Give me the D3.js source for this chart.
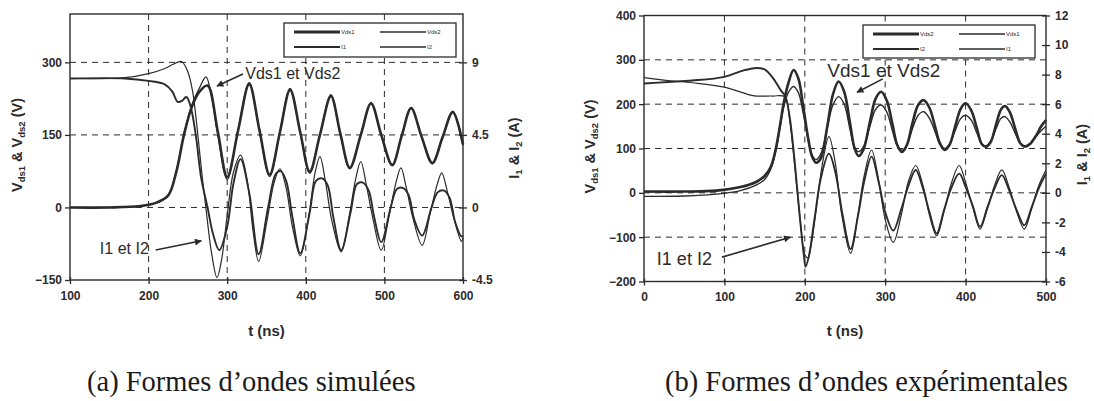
<!DOCTYPE html>
<html>
<head>
<meta charset="utf-8">
<script src="https://cdn.jsdelivr.net/npm/d3@7"></script>
<style>
  body { margin: 0; background: #fff; }
  svg { display: block; }
</style>
</head>
<body>
<script>
// ---- data, panel (a) simulated ----
let simT_vds1 = [100,150,190,210,225,235,245,255,265,275,288,300,314,328,341,354,367,380,393,405,418,432,444,456,470,483,496,510,522,534,547,561,574,587,600];
let simVds1   = [0,0,3,10,25,72,150,208,240,252,157,63,160,255,160,68,155,243,155,74,150,230,152,82,150,215,150,88,148,205,148,92,145,197,130];
let simT_vds2 = [100,150,190,210,225,235,245,255,265,273,280,288,300,314,328,341,354,367,380,393,405,418,432,444,456,470,483,496,510,522,534,547,561,574,587,600];
let simVds2   = [0,0,3,10,25,74,152,212,248,270,230,150,58,162,258,158,64,156,246,153,71,151,233,150,80,151,217,149,86,149,207,147,90,146,199,128];
let simT_i1 = [100,170,200,220,230,237,242,248,253,260,267,275,282,290,300,308,317,328,340,352,362,368,375,383,393,405,413,421,428,435,445,457,465,472,480,487,496,508,516,524,531,538,548,560,568,576,583,590,598,600];
let simI1   = [8.0,8.0,7.85,7.65,7.2,6.55,6.6,6.85,6.35,4.5,1.8,0,-1.65,-2.65,-1.2,1.5,3.0,0.9,-2.9,0,2.1,2.25,1.65,-0.6,-2.85,-0.3,1.65,1.8,1.35,-0.6,-2.65,-0.3,1.45,1.55,1.05,-0.6,-2.15,0,1.15,1.2,0.75,-0.75,-1.75,0,0.95,1.05,0.6,-0.9,-1.8,-1.75];
let simT_i2 = [100,170,200,220,232,242,250,256,262,268,274,280,287,293,300,308,317,326,333,340,350,360,367,375,383,393,403,412,418,425,433,445,455,464,470,477,485,496,506,515,521,528,536,548,558,567,573,580,588,598,600];
let simI2   = [8.0,8.05,8.3,8.6,8.9,9.05,8.4,7.2,4.8,2.0,-0.5,-2.8,-4.35,-3.2,-0.5,2.2,3.25,1.5,-1.5,-3.35,-1.0,1.6,2.4,1.2,-1.2,-3.0,-0.8,2.2,3.15,1.6,-0.8,-2.75,-0.6,1.9,2.85,1.4,-0.6,-2.65,-0.5,1.6,2.45,1.2,-0.6,-2.35,-0.4,1.4,2.15,1.0,-0.6,-2.1,-1.9];

// ---- data, panel (b) experimental ----
let expT_v = [0,50,90,120,140,150,158,164,169,174,180,186,192,198,204,209,214,220,228,235,242,249,256,262,267,273,281,288,295,302,309,315,321,327,334,341,348,355,362,368,374,380,387,394,400,407,414,420,425,431,438,444,449,455,462,468,474,480,488,494,500];
let expVds2 = [3,3,5,13,25,38,60,100,150,205,250,277,258,195,125,82,68,78,150,222,251,228,160,100,83,98,160,212,228,208,155,108,92,108,158,198,209,192,150,112,97,108,150,190,202,186,146,110,104,114,155,188,196,182,143,112,104,110,130,150,164];
let expVds1 = [-8,-7,-3,5,18,30,55,95,145,195,228,240,226,180,122,86,75,88,148,198,217,200,145,102,93,104,150,188,198,182,140,106,96,108,145,175,183,168,138,110,100,110,140,168,175,164,135,111,106,115,145,168,172,160,133,112,106,111,128,140,150];
let expT_i1 = [0,30,60,100,130,140,160,175,181,186,190,195,200,204,208,215,222,230,238,246,257,266,274,283,292,300,310,320,329,338,347,355,364,373,382,392,400,409,418,427,436,445,454,463,473,482,491,500];
let expI1   = [7.8,7.6,7.45,7.15,6.65,6.55,6.55,6.5,5.0,2.6,0.4,-2.2,-4.2,-4.4,-3.5,-0.8,2.0,3.8,2.0,-1.5,-4.1,-1.5,1.2,2.9,0.8,-1.8,-3.35,-1.5,0.8,1.85,0.5,-1.5,-2.9,-1.3,0.6,1.85,0.7,-1.0,-2.45,-1.1,0.5,1.55,0.4,-1.2,-2.45,-1.1,0.5,1.55];
let expT_i2 = [0,30,60,100,125,140,150,160,170,176,181,186,190,195,199,201,205,212,220,230,238,247,257,266,274,283,292,300,310,320,329,338,347,355,364,373,382,392,400,409,418,427,436,445,454,463,473,482,491,500];
let expI2   = [7.4,7.5,7.6,7.85,8.3,8.45,8.35,7.8,6.95,6.5,5.2,2.9,0.6,-2.3,-4.3,-5.0,-4.3,-1.8,1.0,2.65,1.4,-1.5,-3.8,-1.6,0.8,2.45,0.7,-1.3,-2.55,-1.1,0.5,1.55,0.3,-1.3,-2.75,-1.2,0.3,1.3,0.4,-0.9,-2.3,-1.0,0.3,1.2,0.2,-1.1,-2.2,-1.0,0.3,1.3];

// ---- ticks ----
let simXTicks = [100,200,300,400,500,600];
let simVTicks = [-150,0,150,300];
let simITicks = [-4.5,0,4.5,9];
let simVGrid = [0,150,300];
let simXGrid = [200,300,400,500];
let expXTicks = [0,100,200,300,400,500];
let expVTicks = [-200,-100,0,100,200,300,400];
let expITicks = [-6,-4,-2,0,2,4,6,8,10,12];
let expVGrid = [-100,0,100,200,300];
let expXGrid = [100,200,300,400];

let width = 1094;
let height = 401;
let ink = "#2b2b2b";
let sans = "'Liberation Sans', Arial, sans-serif";

let svg = d3.select("body").append("svg").attr("width", width).attr("height", height);
svg.append("rect").attr("width", width).attr("height", height).attr("fill", "#fff");

svg.append("defs").append("marker")
  .attr("id", "arr").attr("viewBox", "0 0 10 10").attr("refX", 9).attr("refY", 5)
  .attr("markerWidth", 9).attr("markerHeight", 7).attr("markerUnits", "userSpaceOnUse")
  .attr("orient", "auto")
  .append("path").attr("d", "M0,0 L10,5 L0,10 z").attr("fill", ink);

function drawPanel(p) {
  let x = d3.scaleLinear().domain(p.xDomain).range([p.left, p.right]);
  let yV = d3.scaleLinear().domain(p.vDomain).range([p.bottom, p.top]);
  let yI = d3.scaleLinear().domain(p.iDomain).range([p.bottom, p.top]);
  let g = svg.append("g");

  // grid
  g.selectAll(".hg").data(p.vGrid).enter().append("line")
    .attr("x1", p.left).attr("x2", p.right)
    .attr("y1", (d) => {return yV(d);}).attr("y2", (d) => {return yV(d);})
    .attr("stroke", ink).attr("stroke-width", 1).attr("stroke-dasharray", "6,5");
  g.selectAll(".vg").data(p.xGrid).enter().append("line")
    .attr("y1", p.top).attr("y2", p.bottom)
    .attr("x1", (d) => {return x(d);}).attr("x2", (d) => {return x(d);})
    .attr("stroke", ink).attr("stroke-width", 1).attr("stroke-dasharray", "6,5");

  // series
  let curve = d3.curveCatmullRom.alpha(0.5);
  p.series.forEach((s) => {
    let sc = s.axis === "I" ? yI : yV;
    let pts = s.t.map((t, i) => {return [t, s.v[i]];});
    g.append("path").datum(pts)
      .attr("fill", "none").attr("stroke", ink).attr("stroke-width", s.w)
      .attr("stroke-linejoin", "round")
      .attr("d", d3.line().curve(curve).x((d) => {return x(d[0]);}).y((d) => {return sc(d[1]);}));
  });

  // frame
  g.append("rect").attr("x", p.left).attr("y", p.top)
    .attr("width", p.right - p.left).attr("height", p.bottom - p.top)
    .attr("fill", "none").attr("stroke", ink).attr("stroke-width", 1.4);

  // axes
  let ax = g.append("g").attr("transform", "translate(0," + p.bottom + ")")
    .call(d3.axisBottom(x).tickValues(p.xTicks).tickSize(4).tickPadding(7).tickFormat(d3.format("d")));
  ax.selectAll(".tick line").attr("y1", -3);
  let al = g.append("g").attr("transform", "translate(" + p.left + ",0)")
    .call(d3.axisLeft(yV).tickValues(p.vTicks).tickSize(5).tickPadding(3).tickFormat(d3.format("d")));
  let ar = g.append("g").attr("transform", "translate(" + p.right + ",0)")
    .call(d3.axisRight(yI).tickValues(p.iTicks).tickSize(4).tickPadding(5).tickFormat((d) => {return String(d);}));
  ar.selectAll(".tick line").attr("x1", -4);
  [ax, al, ar].forEach((a) => {
    a.select(".domain").remove();
    a.selectAll(".tick line").attr("stroke", ink).attr("stroke-width", 1.3);
    a.selectAll("text").attr("fill", ink).attr("font-family", sans)
      .attr("font-weight", "bold").attr("font-size", 12);
  });

  // legend
  let lg = g.append("g");
  lg.append("rect").attr("x", p.legend.x).attr("y", p.legend.y)
    .attr("width", p.legend.w).attr("height", p.legend.h)
    .attr("fill", "#fff").attr("stroke", ink).attr("stroke-width", 1.3);
  p.legend.items.forEach((it, i) => {
    let cx = p.legend.x + 10 + (i % 2) * p.legend.w / 2;
    let cy = p.legend.y + 9 + Math.floor(i / 2) * 15;
    lg.append("line").attr("x1", cx).attr("x2", cx + 46).attr("y1", cy).attr("y2", cy)
      .attr("stroke", ink).attr("stroke-width", it.w);
    lg.append("text").attr("x", cx + 47).attr("y", cy + 2).text(it.label)
      .attr("font-family", sans).attr("font-size", 6).attr("fill", ink);
  });

  // annotations
  p.notes.forEach((n) => {
    g.append("text").attr("x", x(n.t)).attr("y", yV(n.v)).text(n.text)
      .attr("font-family", sans).attr("font-size", n.size).attr("fill", ink);
    g.append("line").attr("x1", x(n.from[0])).attr("y1", yV(n.from[1]))
      .attr("x2", x(n.to[0])).attr("y2", yV(n.to[1]))
      .attr("stroke", ink).attr("stroke-width", 1.6).attr("marker-end", "url(#arr)");
  });

  // axis titles
  let midY = (p.top + p.bottom) / 2;
  let lt = g.append("text").attr("transform", "translate(" + p.vTitleX + "," + (midY - 2) + ") rotate(-90)")
    .attr("text-anchor", "middle").attr("font-family", sans).attr("font-weight", "bold")
    .attr("font-size", 14.5).attr("fill", ink);
  lt.append("tspan").text("V");
  lt.append("tspan").text("ds1").attr("font-size", 9.5).attr("dy", 3);
  lt.append("tspan").text(" & V").attr("dy", -3);
  lt.append("tspan").text("ds2").attr("font-size", 9.5).attr("dy", 3);
  lt.append("tspan").text(" (V)").attr("dy", -3);

  let rt = g.append("text").attr("transform", "translate(" + p.iTitleX + "," + (midY + p.iTitleDy) + ") rotate(-90)")
    .attr("text-anchor", "middle").attr("font-family", sans).attr("font-weight", "bold")
    .attr("font-size", 14.5).attr("fill", ink);
  rt.append("tspan").text("I");
  rt.append("tspan").text("1").attr("font-size", 9.5).attr("dy", 3);
  rt.append("tspan").text(" & I").attr("dy", -3);
  rt.append("tspan").text("2").attr("font-size", 9.5).attr("dy", 3);
  rt.append("tspan").text("  (A)").attr("dy", -3);

  g.append("text").attr("x", (p.left + p.right) / 2).attr("y", 336)
    .attr("text-anchor", "middle").attr("font-family", sans).attr("font-weight", "bold")
    .attr("font-size", 15).attr("fill", ink).text("t (ns)");

  g.append("text").attr("x", p.captionX).attr("y", 391)
    .attr("font-family", "'Liberation Serif', 'Times New Roman', serif")
    .attr("font-size", 28.5).attr("fill", "#1a1a1a").text(p.caption);
}

drawPanel({
  left: 70, right: 463, top: 14, bottom: 280,
  xDomain: [100, 600], vDomain: [-150, 400], iDomain: [-4.5, 12],
  xTicks: simXTicks, vTicks: simVTicks, iTicks: simITicks,
  vGrid: simVGrid, xGrid: simXGrid,
  series: [
    {t: simT_i2, v: simI2, axis: "I", w: 1.2},
    {t: simT_i1, v: simI1, axis: "I", w: 1.9},
    {t: simT_vds2, v: simVds2, axis: "V", w: 1.3},
    {t: simT_vds1, v: simVds1, axis: "V", w: 2.6}
  ],
  legend: {x: 284, y: 23, w: 172, h: 34, items: [
    {label: "Vds1", w: 3}, {label: "Vds2", w: 1.5}, {label: "I1", w: 2}, {label: "I2", w: 1.3}
  ]},
  notes: [
    {text: "Vds1 et Vds2", t: 323, v: 266, size: 16, from: [320, 276], to: [287, 251]},
    {text: "I1 et I2", t: 138, v: -96, size: 16, from: [209, -88], to: [267, -69]}
  ],
  vTitleX: 22, iTitleX: 519, iTitleDy: 1,
  captionX: 87, caption: "(a) Formes d\u2019ondes simulées"
});

drawPanel({
  left: 644, right: 1046, top: 15.5, bottom: 281.5,
  xDomain: [0, 500], vDomain: [-200, 400], iDomain: [-6, 12],
  xTicks: expXTicks, vTicks: expVTicks, iTicks: expITicks,
  vGrid: expVGrid, xGrid: expXGrid,
  series: [
    {t: expT_i1, v: expI1, axis: "I", w: 1.2},
    {t: expT_i2, v: expI2, axis: "I", w: 1.9},
    {t: expT_v, v: expVds1, axis: "V", w: 1.4},
    {t: expT_v, v: expVds2, axis: "V", w: 2.6}
  ],
  legend: {x: 863, y: 25, w: 172, h: 33, items: [
    {label: "Vds2", w: 3}, {label: "Vds1", w: 1.5}, {label: "I2", w: 2}, {label: "I1", w: 1.3}
  ]},
  notes: [
    {text: "Vds1 et Vds2", t: 228, v: 261, size: 19, from: [297, 257], to: [265, 227]},
    {text: "I1 et I2", t: 16, v: -162, size: 18, from: [97, -145], to: [182, -100]}
  ],
  vTitleX: 595, iTitleX: 1087, iTitleDy: 6,
  captionX: 665, caption: "(b) Formes d\u2019ondes expérimentales"
});
</script>
</body>
</html>
